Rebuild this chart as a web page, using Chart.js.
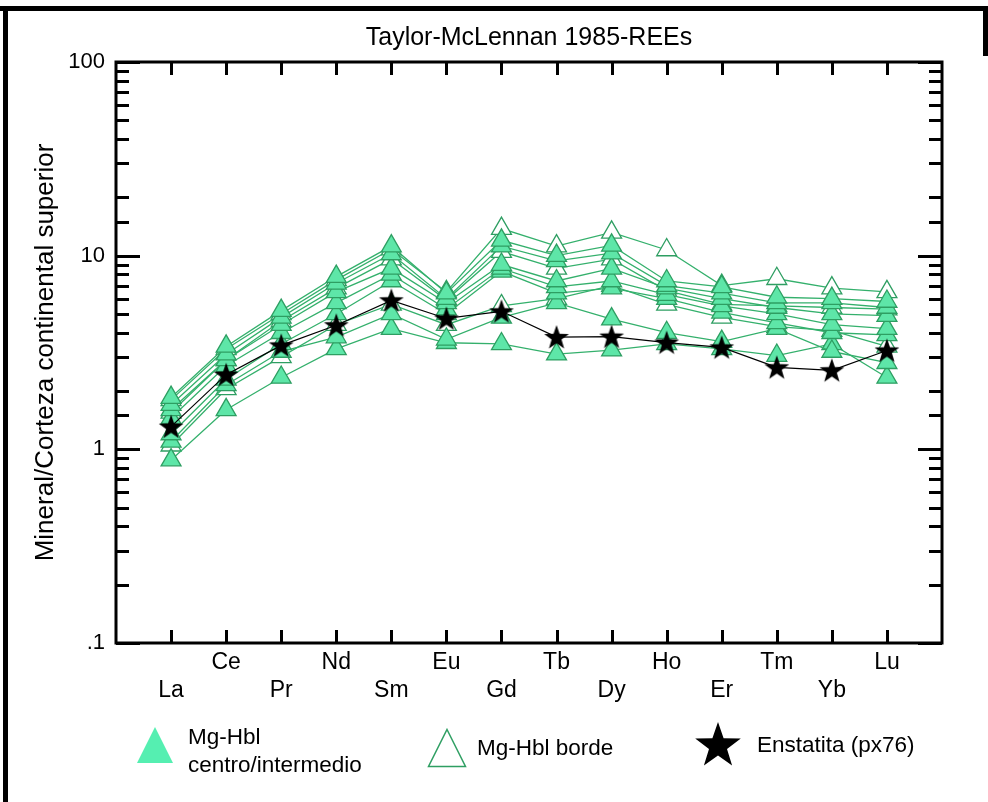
<!DOCTYPE html>
<html>
<head>
<meta charset="utf-8">
<title>Taylor-McLennan 1985-REEs</title>
<script src="https://cdn.jsdelivr.net/npm/chart.js@4.4.0/dist/chart.umd.min.js"></script>
<style>
  body { margin: 0; background: #fff; }
  #wrap { position: relative; width: 988px; height: 802px; overflow: hidden; }
  #myChart { position: absolute; left: 0; top: 0; }
  .bar { position: absolute; background: #000; }
  .legIcon { position: absolute; }
  .legText { position: absolute; font-family: "Liberation Sans", Arial, sans-serif;
             font-size: 22.5px; line-height: 28px; color: #000; white-space: nowrap; }
</style>
</head>
<body>
<div id="wrap">
  <canvas id="myChart" width="988" height="802"></canvas>

  <!-- outer frame of the figure -->
  <div class="bar" style="left:0;top:6px;width:988px;height:5px"></div>
  <div class="bar" style="left:3px;top:6px;width:5px;height:796px"></div>
  <div class="bar" style="left:983px;top:6px;width:5px;height:50px"></div>

  <!-- legend -->
  <svg class="legIcon" style="left:136px;top:726px" width="38" height="38">
    <polygon points="19,1 37,37 1,37" fill="#55EFB1"/>
  </svg>
  <div class="legText" style="left:188px;top:723px">Mg-Hbl<br>centro/intermedio</div>

  <svg class="legIcon" style="left:427px;top:728px" width="40" height="40">
    <polygon points="20,1.5 38.5,38.5 1.5,38.5" fill="#fff" stroke="#2E9E62" stroke-width="1.5"/>
  </svg>
  <div class="legText" style="left:477px;top:734px">Mg-Hbl borde</div>

  <svg class="legIcon" style="left:694px;top:721px" width="48" height="48">
    <polygon id="legStar" fill="#000"/>
  </svg>
  <div class="legText" style="left:757px;top:731px">Enstatita (px76)</div>
</div>

<script>
// REE elements, chondrite order
const elements = ['La', 'Ce', 'Pr', 'Nd', 'Sm', 'Eu', 'Gd', 'Tb', 'Dy', 'Ho', 'Er', 'Tm', 'Yb', 'Lu'];

// Mg-Hbl centro/intermedio (filled triangles)
const hblC1 = [1.85, 3.40, 5.20, 7.80, 11.2, 6.40, 12.0, 10.0, 11.3, 7.40, 6.90, 6.10, 6.00, 5.80];
const hblC2 = [1.70, 3.10, 4.80, 7.20, 10.2, 6.00, 11.2, 9.40, 10.3, 7.00, 6.40, 5.70, 5.70, 5.40];
const hblC3 = [1.60, 2.90, 4.40, 6.50, 8.60, 5.70, 9.00, 7.40, 8.60, 6.80, 6.00, 5.40, 5.00, 4.90];
const hblC4 = [1.45, 2.70, 4.00, 5.70, 8.00, 5.30, 8.60, 6.90, 7.40, 6.30, 5.50, 5.00, 4.40, 4.20];
const hblC5 = [1.20, 2.30, 3.50, 5.00, 7.40, 5.00, 8.30, 6.40, 6.80, 6.00, 5.10, 4.50, 4.00, 3.90];
const hblC6 = [1.10, 2.15, 3.20, 3.80, 5.00, 3.70, 4.80, 5.70, 4.70, 4.00, 3.60, 4.20, 3.20, 2.80];
const hblC7 = [0.88, 1.60, 2.35, 3.30, 4.20, 3.55, 3.50, 3.10, 3.25, 3.50, 3.30, 3.05, 3.50, 2.35];

// Mg-Hbl borde (open triangles)
const hblB1 = [1.80, 3.30, 5.00, 7.50, 10.8, 6.50, 13.8, 11.2, 13.2, 10.7, 7.00, 7.60, 6.80, 6.50];
const hblB2 = [1.55, 2.90, 4.60, 6.80, 9.60, 5.90, 10.5, 8.60, 9.60, 6.60, 5.60, 5.50, 5.40, 5.30];
const hblB3 = [1.05, 2.05, 3.00, 4.40, 5.60, 4.40, 5.50, 6.00, 7.00, 5.60, 4.80, 4.30, 4.10, 3.40];

// Enstatita (px76)
const enstatita = [1.31, 2.43, 3.44, 4.37, 5.88, 4.74, 5.16, 3.80, 3.82, 3.56, 3.36, 2.65, 2.56, 3.24];

// y axis tick labels (decades only)
const yTickLabels = { 0.1: '.1', 1: '1', 10: '10', 100: '100' };

const ARIAL = '"Liberation Sans", Arial, sans-serif';
const fillGreen = '#5EE6A8';
const darkGreen = '#2E9E62';
const lineGreen = '#34B06C';

// star points for a filled 5-point star
function starPts(cx, cy, R, r) {
  let pts = [];
  for (let i = 0; i < 10; i++) {
    let a = -Math.PI / 2 + i * Math.PI / 5;
    let rad = i % 2 ? r : R;
    pts.push([cx + Math.cos(a) * rad, cy + Math.sin(a) * rad]);
  }
  return pts;
}

// marker canvas for the star series
const starImg = document.createElement('canvas');
starImg.width = 26; starImg.height = 26;
(function () {
  let c = starImg.getContext('2d');
  c.fillStyle = '#000';
  c.beginPath();
  starPts(13, 14, 13, 5.2).forEach((p, i) => i ? c.lineTo(p[0], p[1]) : c.moveTo(p[0], p[1]));
  c.closePath();
  c.fill();
})();

document.getElementById('legStar').setAttribute('points',
  starPts(24, 25, 24, 9.5).map(p => p[0].toFixed(1) + ',' + p[1].toFixed(1)).join(' '));

function toXY(arr) {
  return arr.map((v, i) => ({ x: i, y: v }));
}

function hblSet(arr, filled) {
  return {
    data: toXY(arr),
    borderColor: lineGreen,
    borderWidth: 1.3,
    pointStyle: 'triangle',
    pointRadius: 11.5,
    pointBorderWidth: 1.3,
    pointBorderColor: darkGreen,
    pointBackgroundColor: filled ? fillGreen : '#fff',
    tension: 0
  };
}

function isDecade(v) {
  let l = Math.log10(v);
  return Math.abs(l - Math.round(l)) < 1e-6;
}

// frame plus inward tick marks
const frameTicks = {
  id: 'frameTicks',
  beforeDatasetsDraw(chart) {
    const { ctx, chartArea: a, scales: { x, y } } = chart;
    ctx.save();
    ctx.strokeStyle = '#000';
    ctx.lineWidth = 3;
    ctx.strokeRect(a.left, a.top, a.right - a.left, a.bottom - a.top);
    ctx.beginPath();
    y.ticks.forEach(t => {
      let py = Math.round(y.getPixelForValue(t.value)) + 0.5;
      let len = isDecade(t.value) ? 24 : 13;
      ctx.moveTo(a.left, py); ctx.lineTo(a.left + len, py);
      ctx.moveTo(a.right, py); ctx.lineTo(a.right - len, py);
    });
    x.ticks.forEach(t => {
      if (t.value < 0 || t.value > elements.length - 1) return;
      let px = Math.round(x.getPixelForValue(t.value)) + 0.5;
      ctx.moveTo(px, a.bottom); ctx.lineTo(px, a.bottom - 13);
      ctx.moveTo(px, a.top); ctx.lineTo(px, a.top + 13);
    });
    ctx.stroke();
    ctx.restore();
  }
};

Chart.defaults.color = '#000';

// first dataset is drawn last (on top)
const config = {
  type: 'line',
  data: {
    datasets: [
      {
        data: toXY(enstatita),
        borderColor: '#000',
        borderWidth: 1.2,
        pointStyle: starImg,
        pointRadius: 12,
        tension: 0
      },
      hblSet(hblC1, true),
      hblSet(hblC2, true),
      hblSet(hblC3, true),
      hblSet(hblC4, true),
      hblSet(hblC5, true),
      hblSet(hblC6, true),
      hblSet(hblC7, true),
      hblSet(hblB1, false),
      hblSet(hblB2, false),
      hblSet(hblB3, false)
    ]
  },
  options: {
    responsive: false,
    animation: false,
    layout: { padding: { left: 0, right: 46, top: 0, bottom: 0 } },
    plugins: {
      legend: { display: false },
      tooltip: { enabled: false },
      title: {
        display: true,
        text: 'Taylor-McLennan 1985-REEs',
        fullSize: false,
        color: '#000',
        font: { family: ARIAL, size: 25, weight: 'normal' },
        padding: { top: 23, bottom: 9 }
      }
    },
    scales: {
      x: {
        type: 'linear',
        min: -1,
        max: elements.length,
        grid: { display: false, drawTicks: false },
        border: { display: false },
        ticks: {
          stepSize: 1,
          autoSkip: false,
          maxRotation: 0,
          minRotation: 0,
          padding: 5,
          font: { family: ARIAL, size: 23, lineHeight: 1.25 },
          callback: function (v) {
            let i = Math.round(v);
            if (i < 0 || i >= elements.length) return '';
            return i % 2 ? [elements[i], ''] : ['', elements[i]];
          }
        },
        afterFit: function (scale) { scale.height = 159; }
      },
      y: {
        type: 'logarithmic',
        min: 0.1,
        max: 100,
        grid: { display: false, drawTicks: false },
        border: { display: false },
        ticks: {
          autoSkip: false,
          padding: 11,
          font: { family: ARIAL, size: 22 },
          callback: function (v) {
            return isDecade(v) ? yTickLabels[Math.pow(10, Math.round(Math.log10(v)))] : '';
          }
        },
        title: {
          display: true,
          text: 'Mineral/Corteza continental superior',
          color: '#000',
          font: { family: ARIAL, size: 26 },
          padding: { top: 30, bottom: 0 }
        },
        afterFit: function (scale) { scale.width = 116; }
      }
    }
  },
  plugins: [frameTicks]
};

var myChart = new Chart(document.getElementById('myChart'), config);
</script>
</body>
</html>
